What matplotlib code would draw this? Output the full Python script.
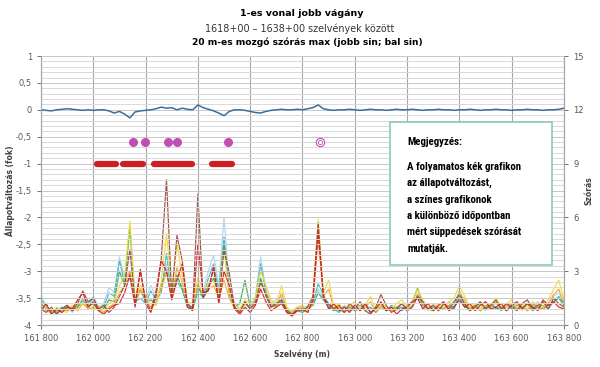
import numpy as np
import matplotlib.pyplot as plt
from matplotlib.ticker import MultipleLocator, FuncFormatter

# szelveny 20 m-enkent
x = np.arange(161800, 163801, 20)

# allapotvaltozas (bal tengely)
blue = [0.0, -0.01, -0.02, 0.0, 0.01, 0.02, 0.01, 0.0, -0.01, 0.0,
        -0.01, 0.0, 0.0, -0.02, -0.06, -0.03, -0.08, -0.15, -0.04, -0.02,
        -0.01, 0.0, 0.02, 0.05, 0.03, 0.04, 0.0, 0.03, 0.01, 0.0,
        0.09, 0.04, 0.01, -0.02, -0.06, -0.11, -0.03, 0.0, 0.0, -0.01,
        -0.03, -0.05, -0.06, -0.03, -0.01, 0.0, 0.01, 0.0, 0.0, 0.01,
        0.0, 0.02, 0.04, 0.09, 0.02, 0.0, -0.01, 0.0, 0.0, 0.01,
        0.0, -0.01, 0.0, 0.01, 0.0, 0.0, -0.01, 0.0, 0.01, 0.0,
        0.0, 0.01, 0.0, -0.01, 0.0, 0.0, 0.01, 0.0, 0.0, -0.01,
        0.0, 0.0, 0.01, 0.0, -0.01, 0.0, 0.0, 0.01, 0.0, 0.0,
        -0.01, 0.0, 0.0, 0.01, 0.0, 0.0, -0.01, 0.0, 0.0, 0.01, 0.03]

# szorasok (jobb tengely)
light_blue = [1.7, 1.0, 0.8, 0.6, 0.9, 1.0, 0.7, 1.1, 1.5, 1.2,
              1.6, 1.0, 1.2, 2.1, 1.8, 3.8, 2.6, 3.0, 1.5, 1.8,
              1.4, 2.2, 1.6, 2.0, 3.4, 1.8, 2.6, 2.2, 1.2, 1.0,
              2.0, 1.8, 3.0, 3.9, 2.2, 6.0, 2.2, 1.2, 0.9, 1.3,
              1.0, 1.6, 3.8, 2.0, 1.2, 1.4, 1.6, 0.9, 0.8, 1.0,
              0.9, 1.1, 1.3, 2.0, 1.5, 1.2, 1.0, 0.8, 1.1, 0.9,
              1.0, 0.8, 1.2, 0.9, 0.7, 1.1, 0.9, 1.0, 0.8, 1.2,
              0.9, 1.1, 1.5, 1.0, 0.8, 1.2, 0.9, 1.0, 1.3, 1.1,
              1.6, 1.2, 0.9, 1.1, 1.3, 0.8, 1.0, 1.2, 0.9, 1.1,
              1.0, 1.2, 0.8, 1.1, 1.0, 1.3, 0.9, 1.2, 1.6, 1.8, 1.3]
cyan = [1.4, 1.1, 0.7, 0.8, 1.0, 0.8, 0.9, 1.0, 1.4, 1.1,
        1.5, 0.9, 1.0, 1.8, 1.6, 3.6, 2.3, 2.6, 1.3, 1.5,
        1.2, 1.9, 1.4, 1.8, 4.0, 1.6, 2.4, 2.0, 1.1, 0.9,
        1.8, 1.6, 2.6, 3.4, 1.9, 4.9, 1.9, 1.0, 0.8, 1.2,
        0.9, 1.4, 3.4, 1.8, 1.1, 1.2, 1.4, 0.8, 0.7, 0.9,
        0.8, 1.0, 1.2, 2.3, 1.7, 1.1, 0.9, 0.7, 1.0, 0.8,
        0.9, 1.1, 0.8, 1.0, 0.7, 1.0, 0.8, 1.1, 0.9, 1.0,
        0.8, 1.0, 1.7, 1.1, 0.9, 1.0, 0.8, 1.2, 1.0, 0.9,
        1.9, 1.1, 0.8, 1.0, 1.2, 0.9, 1.1, 1.0, 0.8, 1.2,
        0.9, 1.1, 1.0, 0.8, 1.2, 1.0, 1.1, 0.9, 1.3, 1.6, 1.2]
green = [1.2, 0.9, 0.8, 0.7, 0.9, 1.1, 0.8, 1.0, 1.3, 1.0,
         1.2, 0.8, 0.9, 1.4, 1.3, 3.0, 2.2, 5.5, 1.2, 2.0,
         1.3, 1.4, 1.2, 2.2, 3.0, 1.5, 2.8, 2.0, 1.0, 0.9,
         2.2, 1.5, 2.2, 2.6, 1.6, 4.5, 1.7, 1.0, 1.2, 2.5,
         1.0, 1.3, 2.6, 1.6, 1.0, 1.1, 1.3, 0.7, 0.6, 0.8,
         0.7, 0.9, 1.1, 1.8, 1.4, 1.0, 0.8, 0.9, 0.7, 1.0,
         0.8, 0.9, 1.1, 0.7, 0.9, 1.2, 0.8, 0.9, 1.0, 0.8,
         1.1, 1.3, 2.05, 1.2, 0.9, 0.8, 1.0, 0.9, 1.1, 1.0,
         1.5, 1.0, 0.9, 1.1, 0.8, 1.0, 1.2, 0.9, 1.0, 0.8,
         1.1, 0.9, 1.0, 1.2, 0.8, 1.0, 0.9, 1.1, 1.3, 1.5, 1.1]
yellow = [1.1, 0.9, 0.6, 1.0, 0.8, 0.7, 1.1, 0.9, 1.3, 1.0,
          0.9, 1.1, 0.8, 1.2, 1.4, 2.2, 2.8, 5.8, 1.4, 2.2,
          1.6, 1.2, 1.1, 2.4, 5.1, 2.0, 4.5, 2.7, 1.3, 1.2,
          2.6, 2.0, 2.3, 2.4, 1.8, 4.2, 1.8, 1.1, 0.9, 1.4,
          1.2, 1.5, 3.0, 2.2, 1.4, 1.2, 2.2, 1.0, 0.7, 1.0,
          1.1, 0.8, 1.5, 5.9, 1.8, 2.5, 1.0, 1.2, 0.8, 1.1,
          1.3, 0.9, 1.1, 1.6, 0.8, 1.2, 1.0, 0.9, 1.2, 1.4,
          1.0, 1.3, 2.0, 1.4, 1.0, 0.9, 1.2, 1.0, 1.3, 1.5,
          2.2, 1.6, 1.0, 1.2, 0.9, 1.3, 1.1, 1.5, 1.0, 1.2,
          1.4, 1.0, 1.2, 0.9, 1.3, 1.1, 1.0, 1.4, 2.0, 2.5, 1.4]
orange = [1.0, 0.8, 0.7, 0.9, 0.7, 0.9, 1.0, 0.8, 1.2, 0.9,
          1.0, 0.9, 0.7, 1.0, 1.2, 1.8, 2.2, 3.0, 1.2, 2.0,
          1.4, 1.0, 1.2, 2.0, 3.0, 1.6, 3.2, 2.4, 1.1, 1.0,
          2.3, 1.7, 2.0, 2.2, 1.5, 2.5, 1.5, 0.9, 0.8, 1.2,
          1.0, 1.3, 2.4, 1.8, 1.2, 1.0, 1.8, 0.9, 0.6, 0.9,
          1.0, 0.7, 1.3, 4.8, 1.6, 2.0, 0.9, 1.0, 0.7, 1.0,
          1.1, 0.8, 1.0, 1.3, 0.7, 1.0, 0.9, 0.8, 1.0, 1.2,
          0.9, 1.1, 1.7, 1.2, 0.9, 0.8, 1.0, 0.9, 1.1, 1.3,
          1.8, 1.4, 0.9, 1.0, 0.8, 1.1, 1.0, 1.3, 0.9, 1.0,
          1.2, 0.9, 1.0, 0.8, 1.1, 1.0, 0.9, 1.2, 1.7, 2.0, 1.2]
brown = [0.9, 0.7, 1.0, 0.6, 0.9, 1.1, 0.8, 1.2, 1.9, 1.3,
         1.5, 0.9, 1.1, 0.7, 1.0, 1.6, 2.2, 4.2, 1.2, 3.0,
         1.4, 0.8, 1.9, 3.7, 8.1, 1.6, 5.0, 3.6, 1.2, 0.9,
         7.3, 1.5, 2.0, 3.2, 1.3, 4.2, 2.9, 1.0, 0.7, 1.3,
         0.9, 1.2, 2.4, 1.7, 1.0, 1.2, 1.4, 0.8, 0.6, 0.9,
         0.8, 1.0, 1.6, 5.7, 1.5, 1.2, 0.9, 1.1, 0.7, 1.2,
         0.9, 1.3, 0.8, 0.6, 1.0, 1.7, 1.1, 0.7, 0.9, 1.2,
         0.8, 1.0, 1.6, 1.3, 0.9, 1.1, 0.8, 1.2, 0.9, 1.3,
         1.7, 1.2, 0.8, 1.0, 1.3, 0.9, 1.1, 1.4, 0.9, 1.2,
         1.0, 0.8, 1.2, 1.4, 0.9, 1.1, 1.3, 0.9, 1.5, 1.2, 1.0]
red = [0.8, 1.2, 0.6, 0.9, 0.7, 1.0, 0.9, 1.4, 1.8, 1.0,
       1.3, 0.8, 0.6, 0.9, 1.1, 1.2, 1.8, 2.8, 1.0, 3.1,
       1.2, 0.7, 1.6, 3.6, 3.0, 1.4, 2.5, 3.4, 1.0, 0.8,
       4.5, 1.8, 1.9, 3.2, 1.2, 3.0, 2.2, 0.9, 0.6, 1.0,
       0.7, 1.1, 2.0, 1.3, 0.8, 1.0, 1.2, 0.7, 0.5, 0.8,
       0.9, 0.7, 1.4, 5.2, 1.6, 0.9, 1.2, 0.8, 1.0, 0.7,
       1.1, 0.8, 1.2, 0.7, 0.9, 1.3, 0.8, 1.0, 0.6, 0.9,
       1.0, 1.3, 1.5, 0.9, 1.2, 0.8, 1.1, 1.3, 0.8, 1.0,
       1.4, 1.0, 1.2, 0.8, 1.1, 1.3, 0.9, 1.0, 1.2, 0.8,
       1.1, 1.3, 0.9, 1.2, 1.0, 0.8, 1.4, 1.1, 1.3, 1.0, 0.9]

# suppedesek jelolese (bal tengely)
dots_x = [162152, 162197, 162285, 162321, 162516]
dots_y = -0.6
ring_x = 162868
red_segments = [(162013, 162087), (162112, 162189), (162233, 162379), (162453, 162529)]
red_y = -1.0

series = [(light_blue, '#a9d3ea'), (cyan, '#3fb5c9'), (green, '#3aa655'),
          (orange, '#f5a031'), (yellow, '#f2dc1a'), (brown, '#9b4a3c'), (red, '#d81e1e')]

note_font = ['Liberation Sans Narrow', 'DejaVu Sans Condensed', 'Roboto Condensed', 'Liberation Sans']

fig = plt.figure(figsize=(6, 3.67), dpi=100)
ax = fig.add_axes([0.0683, 0.1144, 0.8717, 0.733])
ax2 = ax.twinx()

ax.set_xlim(161800, 163800)
ax.set_ylim(-4, 1)
ax2.set_ylim(0, 15)

ax.yaxis.set_major_locator(MultipleLocator(0.5))
ax.yaxis.set_minor_locator(MultipleLocator(0.1))
ax.xaxis.set_major_locator(MultipleLocator(200))
ax2.yaxis.set_major_locator(MultipleLocator(3))
ax.grid(which='minor', axis='y', color='#d9d9d9', lw=0.7)
ax.grid(which='major', axis='y', color='#c8c8c8', lw=0.7)
ax.grid(which='major', axis='x', color='#a6a6a6', lw=0.8)
ax.tick_params(which='minor', left=False)

for vals, col in series:
    ax2.plot(x, vals, color=col, lw=0.85, alpha=0.95)

ax.set_zorder(ax2.get_zorder() + 1)
ax.patch.set_visible(False)

ax.plot(x, blue, color='#3b6e99', lw=1.1)
ax.plot(dots_x, [dots_y] * len(dots_x), 'o', color='#c04fb3', ms=5.5, ls='none')
ax.plot([ring_x], [dots_y], 'o', mfc='white', mec='#c04fb3', ms=6, mew=0.8)
ax.plot([ring_x], [dots_y], 'o', mfc='none', mec='#c04fb3', ms=3, mew=0.6)
for a, b in red_segments:
    ax.plot([a, b], [red_y, red_y], color='#cc1f24', lw=4.5, solid_capstyle='round')

ax.yaxis.set_major_formatter(FuncFormatter(lambda v, p: ('%g' % v).replace('.', ',')))
ax.xaxis.set_major_formatter(FuncFormatter(lambda v, p: '{:,}'.format(int(v)).replace(',', ' ')))

for a in (ax, ax2):
    for s in a.spines.values():
        s.set_color('#a6a6a6')
        s.set_linewidth(0.8)
    a.spines['top'].set_visible(False)
    a.tick_params(labelsize=6, colors='#595959', length=3, width=0.6)

ax.set_ylabel('Állapotváltozás (fok)', fontsize=5.5, fontweight='bold', color='#404040')
ax.yaxis.set_label_coords(-0.05, 0.5)
ax2.set_ylabel('Szórás', fontsize=5.5, fontweight='bold', color='#404040', rotation=90)
ax2.yaxis.set_label_coords(1.04, 0.5)
ax.set_xlabel('Szelvény (m)', fontsize=5.5, fontweight='bold', color='#404040')
ax.xaxis.set_label_coords(0.5, -0.09)

fig.text(0.503, 0.963, '1-es vonal jobb vágány', ha='center', va='center', fontsize=6.8, fontweight='bold')
fig.text(0.5, 0.923, '1618+00 – 1638+00 szelvények között', ha='center', va='center', fontsize=6.9, color='#333333')
fig.text(0.512, 0.885, '20 m-es mozgó szórás max (jobb sin; bal sin)', ha='center', va='center', fontsize=6.6, fontweight='bold')

# megjegyzes doboz
box = plt.Rectangle((390 / 600, 1 - 265 / 367), 162 / 600, 143 / 367, transform=fig.transFigure,
                    facecolor='white', edgecolor='#8ccab8', lw=1.2, zorder=10)
fig.patches.append(box)
fig.text(407 / 600, 1 - 142 / 367, 'Megjegyzés:', fontsize=7.8, fontweight='bold',
         family=note_font, va='center', zorder=11)
note = ['A folyamatos kék grafikon', 'az állapotváltozást,', 'a színes grafikonok',
        'a különböző időpontban', 'mért süppedések szórását', 'mutatják.']
for i, line in enumerate(note):
    fig.text(407 / 600, 1 - (167 + i * 16.3) / 367, line, fontsize=7.8, fontweight='bold',
             family=note_font, va='center', zorder=11)

fig.savefig('out.png', dpi=100)
